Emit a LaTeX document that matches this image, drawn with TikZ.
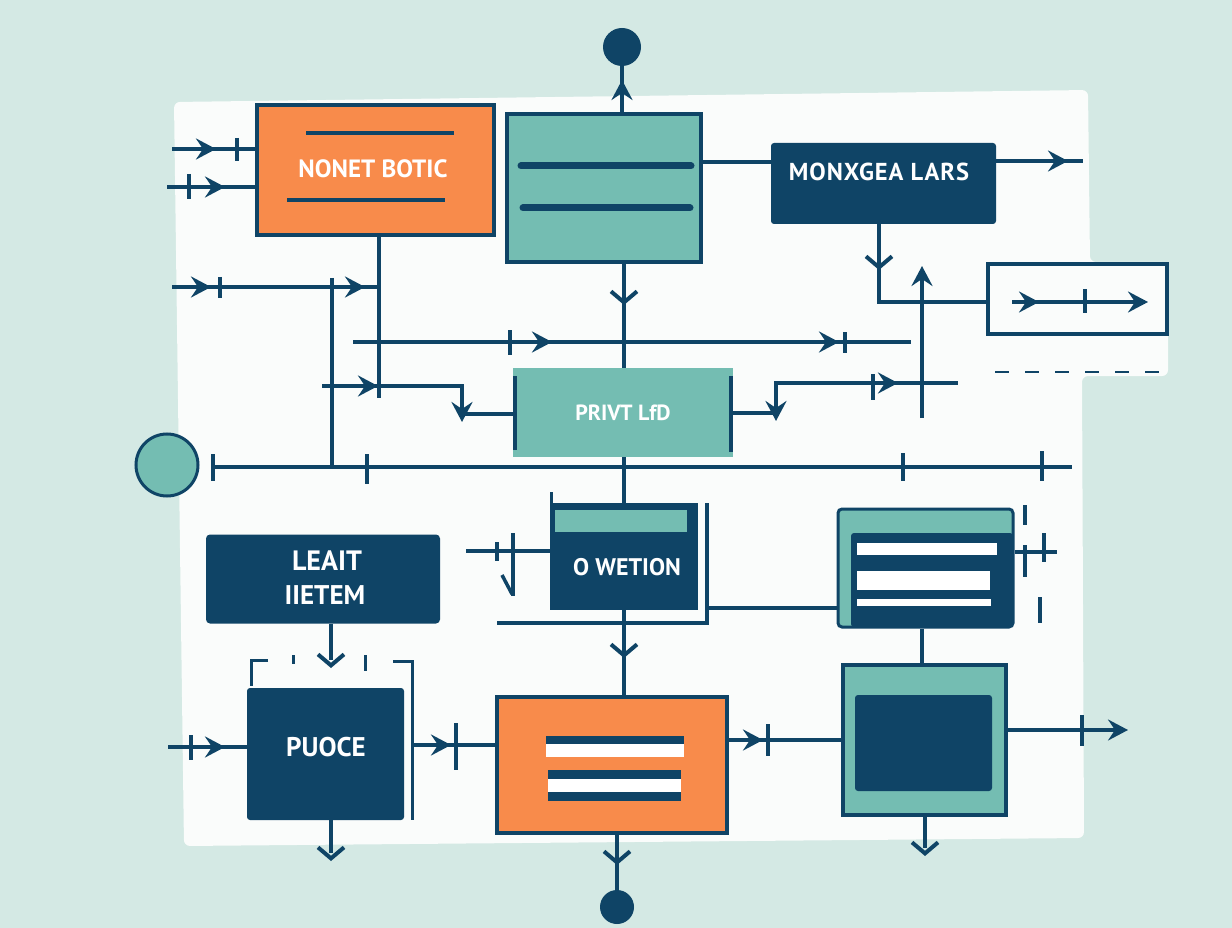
\documentclass[tikz,border=0pt]{standalone}
\usepackage{fontspec}
\setmainfont{PT Sans}
\usetikzlibrary{arrows.meta}
\definecolor{navy}{HTML}{0F4466}
\definecolor{orng}{HTML}{F88B4B}
\definecolor{tealc}{HTML}{74BDB2}
\definecolor{bgc}{HTML}{D4E9E4}
\definecolor{paper}{HTML}{FAFCFB}
\tikzset{
  ln/.style={draw=navy,line width=3.5pt},
  thinln/.style={draw=navy,line width=3pt},
  boxb/.style={draw=navy,line width=4.5pt,inner sep=0pt},
  lbl/.style={text=white,inner sep=0pt,font=\bfseries\fontsize{#1}{#1}\selectfont},
  htip/.style={ln,-{Stealth[length=20pt,width=21pt,inset=7pt]}},
  vtip/.style={draw=navy,line width=4pt,-{Straight Barb[length=11pt,width=26pt]}},
}
% arrowheads: right-pointing, up-pointing, down-pointing (barb); ticks
\newcommand\tipR[2]{\draw[htip] (#1-4,#2)--(#1,#2);}
\newcommand\tipU[2]{\draw[htip] (#1,#2+4)--(#1,#2);}
\newcommand\tipD[2]{\draw[vtip] (#1,#2-4)--(#1,#2);}
\newcommand\tickV[3]{\draw[ln] (#1,#2)--(#1,#3);}
\begin{document}
\begin{tikzpicture}[x=1pt,y=-1pt]
\useasboundingbox (0,0) rectangle (1232,928);
\fill[bgc] (0,0) rectangle (1232,928);
% paper panel
\fill[paper,rounded corners=6pt] (174,102) -- (1088,90) -- (1090,262) -- (1168,262) -- (1168,376) -- (1082,376) -- (1084,838) -- (184,846) -- cycle;
\draw[navy,line width=2.5pt,dash pattern=on 14pt off 16pt] (995,372) -- (1165,372);

% ---------- boxes ----------
\node[boxb,fill=orng,minimum width=237pt,minimum height=130pt] (nb) at (375.5,170) {};
\node[lbl=25] (nbt) at (373,169) {NONET BOTIC};
\draw[ln] (306,133) -- (454,133);
\draw[ln] (287,200) -- (445,200);

\node[boxb,fill=tealc,minimum width=194pt,minimum height=148pt] (tb) at (604,188) {};
\draw[navy,line width=7pt,line cap=round] (521,166) -- (691,166);
\draw[navy,line width=7pt,line cap=round] (523,208) -- (690,208);

\node[fill=navy,rounded corners=3pt,minimum width=225pt,minimum height=81pt,inner sep=0pt] (mx) at (883.5,183.5) {};
\node[lbl=24.5] (mxt) at (879,172) {\addfontfeature{LetterSpace=4}MONXGEA LARS};

\node[boxb,fill=paper,minimum width=179pt,minimum height=70pt] (rb) at (1077.5,299) {};

\node[fill=tealc,minimum width=220pt,minimum height=89pt,inner sep=0pt] (pv) at (623,412.5) {};
\node[lbl=22] (pvt) at (623,413) {PRIVT LfD};
\draw[ln] (515,376) -- (515,450);
\draw[ln] (731,376) -- (731,452);

\node[fill=navy,minimum width=148pt,minimum height=107pt,inner sep=0pt] (ow) at (624,556.5) {};
\fill[tealc] (555,510) rectangle (687,532);
\node[lbl=24] (owt) at (627,567) {O WETION};

\node[draw=navy,line width=3pt,fill=tealc,rounded corners=4pt,minimum width=175pt,minimum height=118pt,inner sep=0pt] (ls) at (925.5,568) {};
\fill[navy,rounded corners=3pt] (851,533) rectangle (1013,627);
\fill[white] (857,543) rectangle (997,555);
\fill[white] (857,571) rectangle (990,590);
\fill[white] (857,599) rectangle (991,606);

\node[fill=navy,rounded corners=4pt,minimum width=234pt,minimum height=89pt,inner sep=0pt] (le) at (323,579) {};
\node[lbl=28] (let1) at (327,561) {LEAIT};
\node[lbl=27] (let2) at (325,595) {IIETEM};

\node[fill=navy,rounded corners=3pt,minimum width=157pt,minimum height=132pt,inner sep=0pt] (pu) at (325.5,754) {};
\node[lbl=27] (put) at (326,747) {PUOCE};

\node[boxb,fill=orng,minimum width=230pt,minimum height=136pt] (ob) at (612,765) {};
\fill[navy] (546,736) rectangle (684,744);
\fill[white] (546,744) rectangle (684,757);
\fill[navy] (548,770) rectangle (681,779);
\fill[white] (548,779) rectangle (681,792);
\fill[navy] (548,792) rectangle (681,801);

\node[boxb,fill=tealc,minimum width=163pt,minimum height=150pt] (tn) at (924.5,740) {};
\fill[navy,rounded corners=3pt] (855,695) rectangle (992,791);

% circles
\node[circle,fill=navy,minimum size=38pt,inner sep=0pt] (topdot) at (622,47) {};
\node[circle,fill=navy,minimum size=34pt,inner sep=0pt] (botdot) at (617,907) {};
\node[circle,draw=navy,line width=3pt,fill=tealc,minimum size=62pt,inner sep=0pt] (ldot) at (167,465) {};

% ---------- connectors ----------
% top
\draw[ln] (topdot |- tb.north) -- (topdot.south);
\tipU{622}{80}
% left inputs to orange box
\coordinate (in1) at (172,149);
\coordinate (in2) at (167,187);
\draw[ln] (in1) -- (in1 -| nb.west);
\tipR{216}{149} \tickV{237}{138}{161}
\draw[ln] (in2) -- (in2 -| nb.west);
\tickV{189}{174}{199} \tipR{225}{187}
% teal box to monxgea
\draw[ln] (tb.east |- 0,162) -- (mx.west |- 0,162);
% monxgea out
\coordinate (mxo) at (1083,161);
\draw[ln] (mx.east |- mxo) -- (mxo);
\tipR{1068}{161}
% monxgea down to right box
\draw[ln] (879,224) -- (879,302) -- (rb.west |- 0,302);
\tipD{879}{270}
% right box inside
\draw[ln] (1012,302) -- (1145,302);
\tipR{1039}{302} \tipR{1148}{302} \tickV{1085}{289}{313}
% up arrow
\draw[ln] (922,418) -- (922,275);
\tipU{922}{266}
% line y=342
\draw[ln] (353,342) -- (911,342);
\tickV{510}{330}{355} \tipR{552}{342}
\tipR{839}{342} \tickV{845}{332}{353}
% line y=287
\draw[ln] (172,287) -- (378,287);
\tipR{211}{287} \tickV{220}{277}{298} \tipR{365}{287}
% verticals
\draw[ln] (379,235) -- (379,398);
\draw[ln] (332,278) -- (332,468);
% left L into PRIVT
\draw[ln] (322,386) -- (462,386) -- (462,414) -- (pv.west |- 0,414);
\tipR{378}{386}
\draw[htip] (462,410) -- (462,422);
% right L out of PRIVT
\draw[ln] (pv.east |- 0,413) -- (776,413) -- (776,383) -- (958,383);
\draw[htip] (776,410) -- (776,421);
\tickV{873}{374}{400} \tipR{898}{383}
% long line y=467
\draw[ln] (213,467) -- (1072,467);
\tickV{213}{454}{481} \tickV{367}{454}{484} \tickV{903}{453}{481} \tickV{1042}{451}{481}
% center vertical
\draw[ln] (tb.south -| 624,0) -- (pv.north -| 624,0);
\tipD{624}{305}
\draw[ln] (pv.south -| 624,0) -- (ow.north -| 624,0);
% O WETION surroundings
\draw[ln] (466,551) -- (ow.west |- 0,551);
\tickV{497}{542}{561} \tickV{513}{533}{596}
\draw[ln] (502,575) -- (512,594);
\draw[thinln] (551,492) -- (551,503);
\draw[ln] (707,503) -- (707,623) -- (497,623);
\draw[ln] (707,608) -- (ls.west |- 0,608);
\draw[ln] (ow.south -| 624,0) -- (ob.north -| 624,0);
\tipD{624}{658}
% list box right side
\draw[ln] (ls.east |- 0,552) -- (1057,552);
\tickV{1025}{505}{525} \tickV{1025}{545}{577} \tickV{1044}{533}{562} \tickV{1040}{597}{623}
\draw[ln] (ls.south -| 922,0) -- (tn.north -| 922,0);
% LEAIT -> PUOCE
\draw[ln] (le.south -| 331,0) -- (331,660);
\tipD{331}{668}
\draw[thinln] (268,660) -- (251,660) -- (251,686);
\draw[thinln] (293,655) -- (293,664);
\draw[thinln] (365,655) -- (365,671);
\draw[thinln] (393,661) -- (412,661) -- (412,820);
% PUOCE
\draw[ln] (168,747) -- (pu.west |- 0,747);
\tickV{191}{735}{760} \tipR{225}{747}
\draw[ln] (412,745) -- (ob.west |- 0,745);
\tipR{451}{745} \tickV{456}{723}{770}
\draw[ln] (pu.south -| 331,0) -- (331,853);
\tipD{331}{861}
% orange bottom
\draw[ln] (ob.south -| 617,0) -- (botdot.north);
\tipD{617}{865}
\draw[ln] (ob.east |- 0,740) -- (tn.west |- 0,740);
\tipR{763}{740} \tickV{768}{724}{756}
% teal-navy box
\draw[ln] (tn.east |- 0,730) -- (1122,730);
\tickV{1082}{715}{746} \tipR{1128}{730}
\draw[ln] (tn.south -| 925,0) -- (925,848);
\tipD{925}{856}
\end{tikzpicture}
\end{document}
